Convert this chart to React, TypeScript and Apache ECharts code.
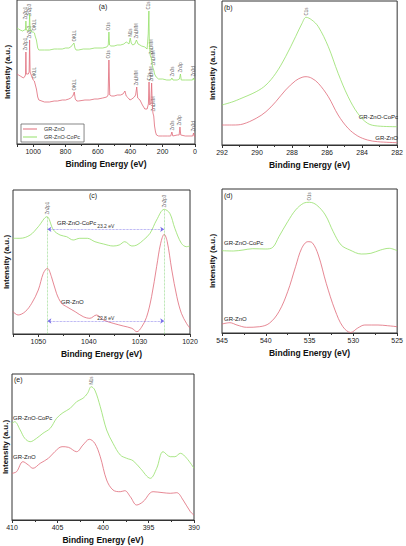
import React, { useEffect, useRef } from "react";
import * as echarts from "echarts";

type P = [number, number];

// ---- (a) survey ----
const A_GREEN: P[] = [
  [1100, 116], [1090, 115], [1080, 114], [1065, 113], [1055, 114], [1048, 114], [1045, 123], [1042, 114],
  [1030, 113], [1025, 114], [1022, 130], [1019, 115], [1010, 112], [1000, 112], [992, 111], [988, 108],
  [980, 104], [972, 96], [965, 94], [930, 94], [900, 94], [870, 95], [850, 95], [820, 95], [800, 96],
  [780, 96], [768, 97], [758, 99], [748, 101], [742, 96], [735, 94], [720, 94], [690, 95], [650, 95],
  [620, 96], [600, 96], [570, 96], [545, 97], [536, 99], [532, 112], [528, 99], [520, 98], [500, 98],
  [480, 99], [460, 99], [440, 100], [425, 102], [415, 101], [408, 100], [400, 106], [394, 101],
  [385, 99], [372, 100], [362, 104], [352, 100], [340, 99], [330, 98], [310, 97], [296, 95], [289, 110],
  [285, 133], [282, 100], [276, 88], [270, 86], [265, 80], [260, 76], [255, 74], [250, 70], [240, 67],
  [225, 65], [200, 65], [175, 64], [150, 64], [143, 66], [136, 64], [110, 64], [96, 65], [90, 70],
  [85, 64], [60, 64], [30, 64], [15, 64], [10, 66], [6, 64], [0, 64],
];
const A_RED: P[] = [
  [1100, 70], [1090, 69], [1080, 68], [1060, 66], [1050, 68], [1047, 70], [1045, 92], [1043, 70],
  [1030, 70], [1025, 72], [1022, 104], [1019, 72], [1010, 68], [1000, 64], [993, 63], [988, 60],
  [980, 55], [972, 47], [965, 44], [930, 42], [900, 42], [870, 43], [850, 43], [820, 44], [800, 44],
  [780, 45], [768, 46], [755, 48], [746, 52], [740, 45], [730, 43], [720, 43], [680, 44], [650, 44],
  [620, 45], [600, 45], [570, 46], [545, 47], [537, 49], [532, 84], [527, 49], [515, 48], [500, 48],
  [480, 49], [460, 49], [445, 50], [433, 53], [425, 48], [412, 46], [402, 44], [390, 45], [375, 47],
  [367, 49], [360, 57], [354, 46], [340, 44], [325, 39], [310, 35], [296, 35], [288, 40], [284, 62],
  [280, 39], [273, 41], [268, 61], [264, 40], [260, 31], [255, 28], [250, 18], [244, 12], [238, 9],
  [225, 8], [200, 8], [170, 8], [150, 8], [143, 12], [137, 8], [110, 9], [98, 9], [93, 17], [88, 9],
  [60, 8], [30, 8], [14, 8], [9, 11], [5, 8], [0, 7],
];
const A_GREEN_PEAKS: [number, number, string][] = [
  [1047, 123, "Zn2p1"], [1024, 126, "Zn2p3"], [990, 112, "OKLL"], [745, 101, "OKLL"], [532, 112, "O1s"],
  [400, 106, "N1s"], [360, 104, "ZnLMM"], [285, 133, "C1s"], [271, 88, "ZnLMM"], [259, 77, "ZnLMM"],
  [142, 66, "Zn3s"], [90, 70, "Zn3p"], [9, 66, "Zn3d"],
];
const A_RED_PEAKS: [number, number, string][] = [
  [1045, 92, "Zn2p1"], [1022, 104, "Zn2p3"], [990, 64, "OKLL"], [746, 52, "OKLL"], [532, 84, "O1s"],
  [360, 57, "ZnLMM"], [284, 62, "C1s"], [268, 61, "ZnLMM"], [258, 31, "ZnLMM"],
  [142, 12, "Zn3s"], [93, 17, "Zn3p"], [9, 11, "Zn3d"],
];

// ---- (b) C1s ----
const B_GREEN: P[] = [
  [292, 40], [291.37, 43.3], [290.99, 46], [290.05, 53.3], [289.49, 60], [288.93, 71.7], [288.37, 88.3],
  [287.8, 108.3], [287.43, 121.7], [287.2, 127.7], [286.87, 125], [286.5, 118.3], [285.93, 98.3],
  [285.37, 71.7], [284.8, 48.3], [284.25, 31.7], [283.69, 21.7], [283.12, 19], [282, 18.3],
];
const B_RED: P[] = [
  [292, 20], [291.37, 20], [290.8, 21], [290.05, 26.7], [289.49, 33.3], [288.93, 43.3], [288.37, 55],
  [287.8, 64.3], [287.43, 67.7], [287.2, 68.3], [286.87, 66.7], [286.5, 61.7], [285.93, 48.3],
  [285.37, 30], [284.8, 16.7], [284.25, 9], [283.69, 5], [283.12, 3.3], [282, 2.3],
];

// ---- (c) Zn2p ----
const C_GREEN: P[] = [
  [1055, 95.7], [1053.6, 95.7], [1051.6, 99], [1050, 107.3], [1048.3, 117.3], [1047, 104], [1045.7, 99],
  [1044.4, 97.3], [1043.1, 94], [1041.8, 95.7], [1040.3, 95.7], [1038.8, 92.3], [1037.1, 90], [1035.2, 88],
  [1034, 89], [1032.9, 92.3], [1031.5, 88], [1030.5, 89], [1029.2, 94], [1027.9, 100.7], [1026.6, 114],
  [1025.1, 124.7], [1024, 120.7], [1023, 105.7], [1021.7, 90.7], [1020.7, 87.3], [1020, 88],
];
const C_RED: P[] = [
  [1055, 22.3], [1054, 19], [1052.6, 22.3], [1051.3, 30.7], [1050, 44], [1049, 60.7], [1048.2, 65.7],
  [1047.4, 57.3], [1046.4, 40.7], [1045.4, 30.7], [1044.4, 27.3], [1042.7, 22.3], [1041.1, 17.3],
  [1039.8, 15.7], [1038.5, 19], [1037.1, 14], [1035.2, 10.7], [1033.2, 8], [1031.5, 5.7], [1030.5, 2.3],
  [1029.6, 6.7], [1028.6, 16.7], [1027.6, 37.3], [1026.6, 67.3], [1025.8, 90.7], [1025.1, 99.7],
  [1024.5, 92.3], [1023.6, 64], [1022.6, 37.3], [1021.7, 20.7], [1020.7, 10.7], [1020, 5.7],
];
const C_PEAKS: [number, number, string][] = [[1048.2, 118, "Zn2p1"], [1025.1, 125, "Zn2p3"]];

// ---- (d) O1s ----
const D_GREEN: P[] = [
  [545, 82.3], [543.7, 82], [542.6, 83], [541.5, 84.3], [540, 84], [539.2, 85.7], [538.5, 96.3],
  [537.5, 111.3], [536.6, 123], [535.7, 129.7], [535, 130.7], [534.2, 128], [533.2, 118], [532.3, 101.3],
  [531.4, 88], [530.4, 83], [529.1, 79], [528, 79.7], [526.9, 83], [525.9, 84.7], [525, 82.3],
];
const D_RED: P[] = [
  [545, 9], [544.1, 10.3], [543.3, 8], [542.2, 5.7], [540.7, 6.3], [539.6, 9.7], [538.5, 21.3],
  [537.5, 41.3], [536.6, 66.3], [535.9, 84.7], [535.2, 91.3], [534.7, 90.3], [534, 78], [533.1, 49.7],
  [532.1, 23], [531.2, 6.3], [530.3, 0.5], [529.5, 5], [528.7, 8], [527.2, 8], [526.1, 7.3], [525, 6.3],
];
const D_PEAKS: [number, number, string][] = [[535, 131, "O1s"]];

// ---- (e) N1s ----
const E_GREEN: P[] = [
  [410, 96.7], [409.7, 98.3], [409.1, 90], [408.6, 81.7], [408, 78.3], [407.3, 81.7], [406.6, 86.7],
  [405.8, 91.7], [405.1, 101.7], [404.4, 107.3], [403.6, 111.7], [402.9, 118.3], [402.2, 121.7],
  [401.7, 126.7], [401.3, 133.3], [400.9, 130], [400.3, 113.3], [399.6, 90], [398.9, 76.7], [398.1, 65],
  [397.4, 61.7], [396.7, 59.3], [395.9, 51.7], [394.8, 41.7], [394.1, 51.7], [393.4, 68.3], [392.6, 63.3],
  [392.1, 63.3], [391.5, 66.7], [390.8, 61.7], [390, 51.7],
];
const E_RED: P[] = [
  [410, 46.7], [409.5, 48.3], [408.8, 58.3], [408.2, 55], [407.7, 51.7], [406.9, 56.7], [406, 61.7],
  [405.3, 68.3], [404.5, 73.3], [403.8, 72.7], [402.9, 68.3], [402.2, 75], [401.5, 80.7], [400.9, 76.7],
  [400.3, 63.3], [399.6, 40], [398.9, 30], [398.1, 28.3], [397.6, 29.3], [397, 23.3], [396.3, 15],
  [395.6, 18.3], [394.5, 28.3], [393.4, 27.3], [392.6, 26.7], [391.9, 27.3], [391.2, 20], [390.4, 8.3],
  [390, 5],
];
const E_PEAKS: [number, number, string][] = [[401.3, 134, "N1s"]];

const SERIES_NAMES = ["GR-ZnO", "GR-ZnO-CoPc"];
const RED = "#e06a78";
const GREEN = "#94e068";
const FONT = "Liberation Sans";

export default function App() {
  const ref = useRef<HTMLDivElement>(null);
  useEffect(() => {
    if (!ref.current) return;
    const chart = echarts.init(ref.current, undefined, { renderer: "svg" });

    const grids = [
      { left: 17, top: 0, width: 178, height: 144 },
      { left: 222, top: 1, width: 178, height: 144 },
      { left: 13, top: 190, width: 177, height: 144 },
      { left: 222, top: 189, width: 178, height: 144 },
      { left: 12, top: 374, width: 182, height: 146 },
    ];
    const xr = [
      { min: 0, max: 1100, interval: 200, gap: 15 },
      { min: 282, max: 292, interval: 2, gap: 15 },
      { min: 1020, max: 1055, interval: 10, gap: 15 },
      { min: 525, max: 545, interval: 5, gap: 15 },
      { min: 390, max: 410, interval: 5, gap: 15 },
    ];
    const nameGapsY = [6, 6, 3, 6, 3];

    const xAxis = xr.map((r, i) => ({
      type: "value",
      gridIndex: i,
      min: r.min,
      max: r.max,
      interval: r.interval,
      inverse: true,
      name: "Binding Energy (eV)",
      nameLocation: "middle",
      nameGap: r.gap,
      nameTextStyle: { fontSize: 8.5, fontWeight: "bold", color: "#111", fontFamily: FONT },
      axisLine: { show: true, lineStyle: { color: "#333", width: 1 } },
      axisTick: { show: true, length: 3, lineStyle: { color: "#333" } },
      minorTick: { show: true, splitNumber: 2, length: 2, lineStyle: { color: "#333" } },
      splitLine: { show: false },
      axisLabel: {
        fontSize: 7,
        color: "#222",
        margin: 4,
        fontFamily: FONT,
        formatter: (v: number) => String(v),
        showMaxLabel: i === 0 || i === 2 ? false : true,
      },
    }));
    const yAxis = grids.map((g, i) => ({
      type: "value",
      gridIndex: i,
      min: 0,
      max: g.height,
      name: "Intensity (a.u.)",
      nameLocation: "middle",
      nameGap: nameGapsY[i],
      nameRotate: 90,
      nameTextStyle: { fontSize: 8, fontWeight: "bold", color: "#111", fontFamily: FONT },
      axisLine: { show: false },
      axisTick: { show: false },
      axisLabel: { show: false },
      splitLine: { show: false },
    }));

    const line = (name: string, data: P[], idx: number, color: string, smooth: boolean, extra: any = {}) => ({
      type: "line",
      name,
      xAxisIndex: idx,
      yAxisIndex: idx,
      data,
      showSymbol: false,
      symbol: "none",
      smooth: smooth ? 0.35 : false,
      lineStyle: { color, width: 0.8 },
      itemStyle: { color },
      ...extra,
    });
    const peaks = (data: [number, number, string][], idx: number) => ({
      type: "scatter",
      name: "peaks" + idx,
      xAxisIndex: idx,
      yAxisIndex: idx,
      data: data.map((d) => ({ value: [d[0], d[1]], name: d[2] })),
      symbolSize: 1,
      itemStyle: { color: "rgba(0,0,0,0)" },
      silent: true,
      label: {
        show: true,
        formatter: (p: any) => p.name,
        position: "top",
        distance: 1,
        rotate: 90,
        align: "left",
        verticalAlign: "middle",
        fontSize: 4.5,
        color: "#333",
        fontFamily: FONT,
      },
    });

    const dotted = { type: "dotted", width: 0.7 };
    const series: any[] = [
      line("GR-ZnO", A_RED, 0, RED, false),
      line("GR-ZnO-CoPc", A_GREEN, 0, GREEN, false),
      peaks(A_GREEN_PEAKS, 0),
      peaks(A_RED_PEAKS, 0),
      line("GR-ZnO", B_RED, 1, RED, true),
      line("GR-ZnO-CoPc", B_GREEN, 1, GREEN, true),
      peaks([[287.2, 128, "C1s"]], 1),
      line("GR-ZnO", C_RED, 2, RED, true, {
        markLine: {
          silent: true,
          symbol: ["arrow", "arrow"],
          symbolSize: 4,
          lineStyle: { color: "#7a70e8", ...dotted },
          label: { show: true, position: "middle", fontSize: 5, color: "#333", distance: 1, fontFamily: FONT },
          data: [
            [{ coord: [1048.2, 104.7], name: "23.2 eV" }, { coord: [1025.1, 104.7] }],
            [{ coord: [1048.2, 13], name: "22.8 eV" }, { coord: [1025.1, 13] }],
          ],
        },
      }),
      line("GR-ZnO-CoPc", C_GREEN, 2, GREEN, true, {
        markLine: {
          silent: true,
          symbol: ["none", "none"],
          lineStyle: { color: "#7cd070", ...dotted },
          label: { show: false },
          data: [
            [{ coord: [1048.2, 0] }, { coord: [1048.2, 117] }],
            [{ coord: [1025.1, 0] }, { coord: [1025.1, 124] }],
          ],
        },
      }),
      peaks(C_PEAKS, 2),
      line("GR-ZnO", D_RED, 3, RED, true),
      line("GR-ZnO-CoPc", D_GREEN, 3, GREEN, true),
      peaks(D_PEAKS, 3),
      line("GR-ZnO", E_RED, 4, RED, true),
      line("GR-ZnO-CoPc", E_GREEN, 4, GREEN, true),
      peaks(E_PEAKS, 4),
    ];

    const txt = (text: string, x: number, y: number, size: number, align = "left") => ({
      type: "text",
      x,
      y,
      silent: true,
      style: { text, fontSize: size, fill: "#222", fontFamily: FONT, align, verticalAlign: "middle" },
    });

    chart.setOption({
      animation: false,
      backgroundColor: "#fff",
      grid: grids.map((g) => ({ ...g, show: true, borderColor: "#333", borderWidth: 1, backgroundColor: "transparent" })),
      xAxis,
      yAxis,
      legend: {
        data: SERIES_NAMES,
        orient: "vertical",
        left: 21,
        top: 124,
        itemWidth: 14,
        itemHeight: 1,
        icon: "rect",
        itemGap: 2,
        padding: [2, 4, 2, 2],
        borderColor: "#555",
        borderWidth: 0.7,
        textStyle: { fontSize: 5.5, color: "#333", fontFamily: FONT, padding: [0, 0, 0, 2] },
        selectedMode: false,
      },
      series,
      graphic: [
        txt("(a)", 103, 6, 7, "center"),
        txt("(b)", 224, 7, 7),
        txt("(c)", 93, 195, 7, "center"),
        txt("(d)", 224, 195, 7),
        txt("(e)", 14, 379, 7),
        txt("GR-ZnO-CoPc", 398, 117, 6, "right"),
        txt("GR-ZnO", 398, 138, 6, "right"),
        txt("GR-ZnO-CoPc", 57, 223, 6),
        txt("GR-ZnO", 61, 302, 6),
        txt("GR-ZnO-CoPc", 224, 243, 6),
        txt("GR-ZnO", 224, 319, 6),
        txt("GR-ZnO-CoPc", 13, 418, 6),
        txt("GR-ZnO", 13, 457, 6),
      ],
    });
    return () => chart.dispose();
  }, []);
  return <div ref={ref} style={{ position: "fixed", left: 0, top: 0, width: 406, height: 546 }} />;
}
